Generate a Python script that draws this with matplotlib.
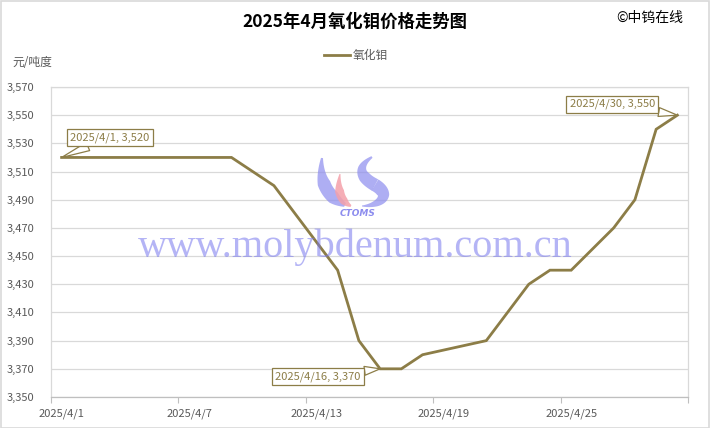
import numpy as np
import matplotlib
matplotlib.use("Agg")
import matplotlib.pyplot as plt
from matplotlib.patches import Polygon, Rectangle
from matplotlib.ticker import FuncFormatter, FixedLocator

plt.rcParams['font.family'] = ['Noto Sans CJK SC', 'DejaVu Sans']

# data: day of April 2025 and price (yuan / ton-degree)
days = [1, 2, 3, 7, 8, 9, 11, 14, 15, 16, 17, 18, 21, 23, 24, 25, 27, 28, 29, 30]
prices = [3520, 3520, 3520, 3520, 3520, 3520, 3500, 3440, 3390, 3370,
          3370, 3380, 3390, 3430, 3440, 3440, 3470, 3490, 3540, 3550]
label_days = [1, 7, 13, 19, 25]
yticks = list(range(3350, 3571, 20))
callouts = [(1, 3520), (16, 3370), (30, 3550)]

olive = '#8C7D47'
grey_txt = '#595959'
grid_c = '#D9D9D9'

W, H = 710, 428
fig = plt.figure(figsize=(W / 100, H / 100), dpi=100)
ax = fig.add_axes([51 / W, 1 - 397 / H, (688 - 51) / W, (397 - 87) / H])

def fx(px):
    return px / W

def fy(py):
    return 1 - py / H

ax.plot(days, prices, color=olive, lw=2.0, label='氧化钼', zorder=3,
        solid_joinstyle='miter')

ax.set_xlim(0.5, 30.5)
ax.set_ylim(3350, 3570)
ax.set_yticks(yticks)
ax.yaxis.set_major_formatter(FuncFormatter(lambda v, p: f'{int(v):,}'))
ax.tick_params(axis='y', length=0, pad=12, labelsize=8, labelcolor=grey_txt)
ax.grid(axis='y', color=grid_c, lw=0.9)
ax.set_axisbelow(True)

ax.xaxis.set_major_locator(FixedLocator(np.arange(0.5, 31, 6)))
ax.xaxis.set_minor_locator(FixedLocator(label_days))
ax.xaxis.set_major_formatter(FuncFormatter(lambda v, p: ''))
ax.xaxis.set_minor_formatter(FuncFormatter(lambda v, p: f'2025/4/{int(v)}'))
ax.tick_params(axis='x', which='major', length=4, color='#BFBFBF', width=0.8)
ax.tick_params(axis='x', which='minor', length=0, pad=8, labelsize=8,
               labelcolor=grey_txt)
for s in ax.spines.values():
    s.set_color(grid_c)
    s.set_linewidth(0.9)
ax.spines['bottom'].set_color('#BFBFBF')

# callouts
offsets = {1: (48, 20), 16: (-62, -8), 30: (-65, 11)}
for d, v in callouts:
    ax.annotate(f'2025/4/{d}, {v:,}', xy=(d, v), xytext=offsets[d],
                textcoords='offset pixels', ha='center', va='center',
                fontsize=8, color=olive, zorder=5,
                bbox=dict(boxstyle='square,pad=0.3', fc='white', ec=olive, lw=0.9),
                arrowprops=dict(arrowstyle='wedge,tail_width=0.8,shrink_factor=0.5',
                                fc='white', ec=olive, lw=0.9, shrinkA=0, shrinkB=0))

# watermark text
fig.text(fx(355), fy(247), 'www.molybdenum.com.cn', family='Liberation Serif',
         fontsize=29, color='#7777EE', alpha=0.55, ha='center', va='center',
         zorder=10)

# CTOMS logo
def stroke(pts, widths, color, alpha):
    pts = np.array(pts, float)
    t = np.linspace(0, 1, 40)[:, None]
    c = ((1 - t) ** 3 * pts[0] + 3 * (1 - t) ** 2 * t * pts[1]
         + 3 * (1 - t) * t ** 2 * pts[2] + t ** 3 * pts[3])
    d = np.gradient(c, axis=0)
    n = np.stack([-d[:, 1], d[:, 0]], 1)
    n /= np.linalg.norm(n, axis=1)[:, None]
    w = np.interp(t[:, 0], np.linspace(0, 1, len(widths)), widths)[:, None] / 2
    poly = np.vstack([c + n * w, (c - n * w)[::-1]])
    poly = np.column_stack([fx(poly[:, 0]), fy(poly[:, 1])])
    fig.add_artist(Polygon(poly, closed=True, fc=color, ec='none', alpha=alpha,
                           transform=fig.transFigure, zorder=9))

stroke([(322, 158), (318, 190), (335, 200), (345, 205)], [2, 13, 13, 4], '#8C8CEE', 0.7)
stroke([(340, 174), (336, 195), (344, 203), (351, 206)], [1, 9, 8, 2], '#F4A0AA', 0.85)
stroke([(372, 157), (355, 168), (362, 178), (375, 185)], [2, 8, 12, 13], '#8C8CEE', 0.7)
stroke([(375, 185), (392, 195), (380, 206), (362, 206)], [13, 12, 7, 1], '#8C8CEE', 0.7)
fig.text(fx(358), fy(213), 'CTOMS', fontsize=6.5, color='#8C8CEE', style='italic',
         weight='bold', family='DejaVu Sans', ha='center', va='center', zorder=9)

# titles and labels
fig.text(fx(355), fy(22), '2025年4月氧化钼价格走势图', fontsize=12.5,
         weight='bold', ha='center', va='center', color='black')
fig.text(fx(650), fy(18), '©中钨在线', fontsize=10, ha='center', va='center',
         color='black')
fig.text(fx(12), fy(63), '元/吨度', fontsize=8.5, ha='left', va='center',
         color=grey_txt)
fig.legend(loc='center', bbox_to_anchor=(fx(356), fy(56)), frameon=False,
           fontsize=8.5, handlelength=2.2, handletextpad=0.2, labelcolor=grey_txt)

fig.add_artist(Rectangle((0.001, 0.001), 0.997, 0.997, transform=fig.transFigure,
                         fill=False, ec=grid_c, lw=1.2))

fig.savefig('out.png', dpi=100, facecolor='white')
